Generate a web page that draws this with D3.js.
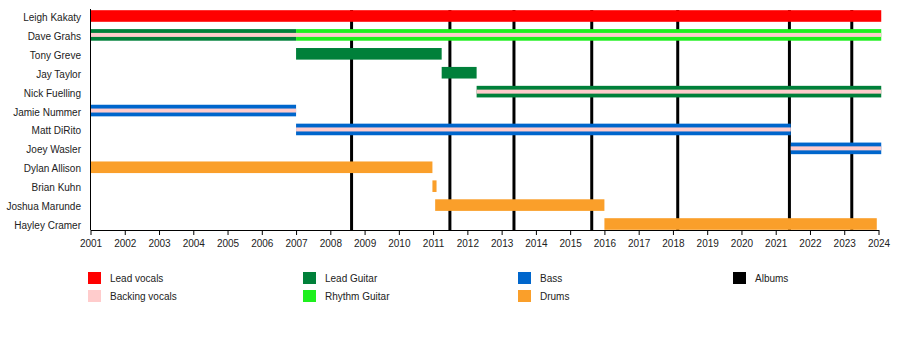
<!DOCTYPE html>
<html>
<head>
<meta charset="utf-8">
<script src="https://cdn.jsdelivr.net/npm/d3@7"></script>
<style>
  body { margin: 0; background: #fff; }
  svg { display: block; font-family: "Liberation Sans", Arial, sans-serif; }
</style>
</head>
<body>
<svg id="chart" width="900" height="350"></svg>
<script>
// ---- Data ----
const members = ["Leigh Kakaty", "Dave Grahs", "Tony Greve", "Jay Taylor", "Nick Fuelling",
  "Jamie Nummer", "Matt DiRito", "Joey Wasler", "Dylan Allison", "Brian Kuhn",
  "Joshua Marunde", "Hayley Cramer"];

const roles = ["Lead vocals", "Backing vocals", "Lead Guitar", "Rhythm Guitar", "Bass", "Drums", "Albums"];

// [member, role, start, end]
const spans = [
  ["Leigh Kakaty", "Lead vocals", 2001, 2024.08],
  ["Dave Grahs", "Lead Guitar", 2001, 2007.0],
  ["Dave Grahs", "Rhythm Guitar", 2007.0, 2024.08],
  ["Tony Greve", "Lead Guitar", 2007.0, 2011.25],
  ["Jay Taylor", "Lead Guitar", 2011.25, 2012.27],
  ["Nick Fuelling", "Lead Guitar", 2012.27, 2024.08],
  ["Jamie Nummer", "Bass", 2001, 2007.0],
  ["Matt DiRito", "Bass", 2007.0, 2021.44],
  ["Joey Wasler", "Bass", 2021.44, 2024.08],
  ["Dylan Allison", "Drums", 2001, 2010.98],
  ["Brian Kuhn", "Drums", 2010.98, 2011.1],
  ["Joshua Marunde", "Drums", 2011.06, 2016.0],
  ["Hayley Cramer", "Drums", 2016.0, 2023.95]
];

// backing vocals [member, start, end]
const backing = [
  ["Dave Grahs", 2001, 2024.08],
  ["Nick Fuelling", 2012.27, 2024.08],
  ["Jamie Nummer", 2001, 2007.0],
  ["Matt DiRito", 2007.0, 2021.44],
  ["Joey Wasler", 2021.44, 2024.08]
];

const albums = [2008.62, 2011.49, 2013.36, 2015.63, 2018.14, 2021.40, 2023.22];

const yearTicks = d3.range(2001, 2025);

// ---- Styles ----
const roleColor = {
  "Lead vocals": "#ff0000",
  "Backing vocals": "#ffcccc",
  "Lead Guitar": "#00803a",
  "Rhythm Guitar": "#1ef01e",
  "Bass": "#0066cc",
  "Drums": "#fa9f2a",
  "Albums": "#000000"
};

const svg = d3.select("#chart");
const x = d3.scaleLinear().domain([2001, 2024]).range([90.5, 878.5]);
const y = d3.scalePoint().domain(members).range([16, 224]);
const barH = 11.6;
const stripeH = 4;
const axisY = 230;
const textColor = "#222";
const fs = 10;

// album lines (behind bars)
svg.append("g").selectAll("line").data(albums).join("line")
  .attr("x1", d => x(d)).attr("x2", d => x(d))
  .attr("y1", 10).attr("y2", axisY)
  .attr("stroke", "#000").attr("stroke-width", 3);

// bars
svg.append("g").selectAll("rect").data(spans).join("rect")
  .attr("x", d => x(d[2]))
  .attr("width", d => x(d[3]) - x(d[2]))
  .attr("y", d => y(d[0]) - barH / 2)
  .attr("height", barH)
  .attr("fill", d => roleColor[d[1]]);

// backing vocal stripes
svg.append("g").selectAll("rect").data(backing).join("rect")
  .attr("x", d => x(d[1]))
  .attr("width", d => x(d[2]) - x(d[1]))
  .attr("y", d => y(d[0]) - stripeH / 2)
  .attr("height", stripeH)
  .attr("fill", roleColor["Backing vocals"]);

// y axis line
svg.append("line")
  .attr("x1", 90.5).attr("x2", 90.5).attr("y1", 9).attr("y2", axisY)
  .attr("stroke", "#000").attr("stroke-width", 1);

// member labels
svg.append("g").selectAll("text").data(members).join("text")
  .attr("x", 81).attr("y", d => y(d) + 1.5)
  .attr("dy", "0.35em")
  .attr("text-anchor", "end")
  .attr("font-size", fs)
  .attr("fill", textColor)
  .text(d => d);

// x axis
const xAxis = d3.axisBottom(x).tickValues(yearTicks).tickFormat(d3.format("d")).tickSize(5).tickSizeOuter(0);
const gx = svg.append("g").attr("transform", `translate(0,${axisY})`).call(xAxis);
gx.select(".domain").attr("stroke", "#000");
gx.selectAll(".tick line").attr("stroke", "#000");
gx.selectAll(".tick text").attr("font-size", fs).attr("fill", textColor)
  .attr("font-family", "Liberation Sans, Arial, sans-serif").attr("y", 10);

// legend
const legendPos = [
  [88, 272], [88, 290], [303, 272], [303, 290], [518, 272], [518, 290], [733, 272]
];
const lg = svg.append("g").selectAll("g").data(roles).join("g")
  .attr("transform", (d, i) => `translate(${legendPos[i][0]},${legendPos[i][1]})`);
lg.append("rect").attr("width", 13).attr("height", 12).attr("fill", d => roleColor[d]);
lg.append("text").attr("x", 22).attr("y", 6.5).attr("dy", "0.35em")
  .attr("font-size", fs).attr("fill", textColor).text(d => d);
</script>
</body>
</html>
